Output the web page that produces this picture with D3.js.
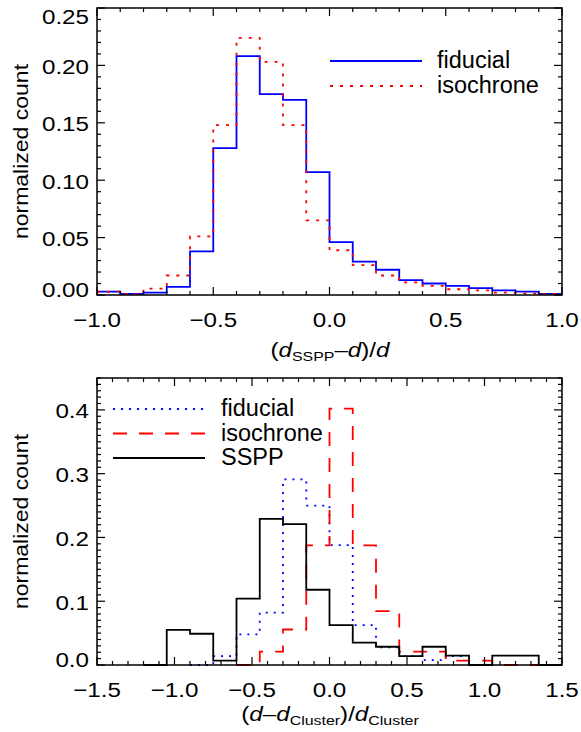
<!DOCTYPE html>
<html>
<head>
<meta charset="utf-8">
<script src="https://cdn.jsdelivr.net/npm/d3@7"></script>
<style>
  body { margin: 0; background: #fff; }
  svg text { font-family: "Liberation Sans", Arial, sans-serif; fill: #000; }
</style>
</head>
<body>
<div id="chart"></div>
<script>
"use strict";

// ---- data ----
// top panel: (d_SSPP - d)/d, bins of 0.1
var topEdges = [-1.0, -0.9, -0.8, -0.7, -0.6, -0.5, -0.4, -0.3, -0.2, -0.1, 0.0,
                0.1, 0.2, 0.3, 0.4, 0.5, 0.6, 0.7, 0.8, 0.9, 1.0];
var topFiducial = [0.003, 0.001, 0.002, 0.007, 0.038, 0.128, 0.208, 0.175, 0.170, 0.107,
                   0.046, 0.029, 0.022, 0.013, 0.010, 0.008, 0.006, 0.004, 0.003, 0.001];
var topIsochrone = [0.003, 0.001, 0.0055, 0.017, 0.051, 0.148, 0.224, 0.203, 0.148, 0.065,
                    0.039, 0.026, 0.017, 0.011, 0.008, 0.005, 0.004, 0.002, 0.0015, 0.001];
var topXTicks = [-1.0, -0.5, 0.0, 0.5, 1.0];
var topYTicks = [0.00, 0.05, 0.10, 0.15, 0.20, 0.25];

// bottom panel: (d - d_Cluster)/d_Cluster, bins of 0.15 (null = not drawn)
var botEdges = [-1.5, -1.35, -1.2, -1.05, -0.9, -0.75, -0.6, -0.45, -0.3, -0.15, 0.0,
                0.15, 0.3, 0.45, 0.6, 0.75, 0.9, 1.05, 1.2, 1.35, 1.5];
var botFiducial = [null, null, null, null, 0, 0.014, 0.048, 0.082, 0.291, 0.250,
                   0.188, 0.0625, 0.0276, 0.014, 0.0078, 0.014, 0, null, null, null];
var botIsochrone = [null, null, null, null, null, null, 0, 0.021, 0.0557, 0.1875,
                    0.402, 0.1875, 0.0844, 0.021, 0.021, 0.007, 0.007, 0, 0, 0];
var botSSPP = [null, null, 0, 0.055, 0.049, 0.007, 0.104, 0.229, 0.221, 0.118,
               0.0625, 0.035, 0.0286, 0.014, 0.0286, 0.0146, 0, 0.0146, 0.0146, 0];
var botXTicks = [-1.5, -1.0, -0.5, 0.0, 0.5, 1.0, 1.5];
var botYTicks = [0.0, 0.1, 0.2, 0.3, 0.4];

var W = 581, H = 732;
var svg = d3.select("#chart").append("svg")
  .attr("width", W).attr("height", H);

var SX = 1.18; // glyphs in the picture are a bit wider than tall
var FS = "20.5px";
function fmt(v, n) {
  var s = Math.abs(v).toFixed(n);
  return (v < 0 ? "\u2212" : "") + s;
}

// draws one histogram panel
function panel(cfg) {
  var x = d3.scaleLinear().domain(cfg.xDomain).range([97, 562]);
  var y = d3.scaleLinear().domain(cfg.yDomain).range([cfg.bottom, cfg.top]);
  var g = svg.append("g");

  // histogram steps
  cfg.series.forEach(function(s) {
    var p = d3.path(), open = false;
    s.values.forEach(function(v, i) {
      if (v === null) { open = false; return; }
      var x0 = x(cfg.edges[i]), x1 = x(cfg.edges[i + 1]), yy = y(v);
      if (!open) { p.moveTo(x0, yy); open = true; } else { p.lineTo(x0, yy); }
      p.lineTo(x1, yy);
    });
    g.append("path")
      .attr("d", p.toString())
      .attr("fill", "none")
      .attr("stroke", s.color)
      .attr("stroke-width", 1.8)
      .attr("stroke-dasharray", s.dash);
  });

  // box
  g.append("rect")
    .attr("x", x.range()[0]).attr("y", cfg.top)
    .attr("width", x.range()[1] - x.range()[0]).attr("height", cfg.bottom - cfg.top)
    .attr("fill", "none").attr("stroke", "#000").attr("stroke-width", 1.5);

  // ticks, pointing inward on all four sides
  function tick(x1, y1, x2, y2) {
    g.append("line").attr("x1", x1).attr("y1", y1).attr("x2", x2).attr("y2", y2)
      .attr("stroke", "#000").attr("stroke-width", 1.2);
  }
  x.ticks(cfg.xMinor).forEach(function(v) {
    var major = cfg.xTicks.some(function(t) { return Math.abs(t - v) < 1e-6; });
    var len = major ? 8 : 4;
    tick(x(v), cfg.bottom, x(v), cfg.bottom - len);
    tick(x(v), cfg.top, x(v), cfg.top + len);
  });
  y.ticks(cfg.yMinor).forEach(function(v) {
    var major = cfg.yTicks.some(function(t) { return Math.abs(t - v) < 1e-6; });
    var len = major ? 8 : 4;
    tick(x.range()[0], y(v), x.range()[0] + len, y(v));
    tick(x.range()[1], y(v), x.range()[1] - len, y(v));
  });

  // tick labels
  cfg.xTicks.forEach(function(v) {
    g.append("text")
      .attr("transform", "translate(" + x(v) + "," + (cfg.bottom + 32) + ") scale(" + SX + ",1)")
      .attr("text-anchor", "middle")
      .style("font-size", FS)
      .text(fmt(v, 1));
  });
  cfg.yTicks.forEach(function(v) {
    var cy = y(v) + 1;
    cy = Math.max(cfg.top + 8, Math.min(cfg.bottom - 6, cy));
    g.append("text")
      .attr("transform", "translate(89," + (cy + 7.5) + ") scale(" + SX + ",1)")
      .attr("text-anchor", "end")
      .style("font-size", FS)
      .text(fmt(v, cfg.yDigits));
  });

  // y title
  g.append("text")
    .attr("transform", "translate(28," + ((cfg.top + cfg.bottom) / 2) + ") rotate(-90) scale(" + SX + ",1)")
    .attr("text-anchor", "middle")
    .style("font-size", "19.5px")
    .text("normalized count");

  // x title with italic d and subscripts
  var t = g.append("text")
    .attr("transform", "translate(330," + (cfg.bottom + cfg.titleDy) + ") scale(" + SX + ",1)")
    .attr("text-anchor", "middle")
    .style("font-size", FS);
  cfg.xTitle.forEach(function(part) {
    var ts = t.append("tspan").text(part.s);
    if (part.it) ts.style("font-style", "italic");
    if (part.sub) ts.style("font-size", "13.5px").attr("dy", 4);
    if (part.up) ts.attr("dy", -4);
  });

  // legend
  cfg.legend.forEach(function(l, i) {
    var ly = cfg.legendY + i * cfg.legendStep;
    g.append("line")
      .attr("x1", cfg.legendX[0]).attr("x2", cfg.legendX[1])
      .attr("y1", ly).attr("y2", ly)
      .attr("stroke", l.color).attr("stroke-width", 1.8)
      .attr("stroke-dasharray", l.dash);
    g.append("text")
      .attr("x", cfg.legendX[2]).attr("y", ly + 7)
      .style("font-size", "23.5px")
      .text(l.name);
  });
}

var topSeries = [
  { name: "fiducial", values: topFiducial, color: "#0000ff", dash: null },
  { name: "isochrone", values: topIsochrone, color: "#ff0000", dash: "3,7" }
];
panel({
  top: 8, bottom: 295, titleDy: 62,
  xDomain: [-1, 1], yDomain: [0, 0.25],
  xMinor: 20, yMinor: 25,
  xTicks: topXTicks, yTicks: topYTicks, yDigits: 2,
  edges: topEdges,
  series: topSeries,
  legend: topSeries,
  legendX: [330, 422, 437], legendY: 61, legendStep: 25,
  xTitle: [{ s: "(" }, { s: "d", it: true }, { s: "SSPP", sub: true },
           { s: "\u2013", up: true }, { s: "d", it: true }, { s: ")/" }, { s: "d", it: true }]
});

var botSeries = [
  { name: "fiducial", values: botFiducial, color: "#0000ff", dash: "2,6" },
  { name: "isochrone", values: botIsochrone, color: "#ff0000", dash: "14,12" },
  { name: "SSPP", values: botSSPP, color: "#000000", dash: null }
];
panel({
  top: 378, bottom: 665, titleDy: 56,
  xDomain: [-1.5, 1.5], yDomain: [0, 0.45],
  xMinor: 30, yMinor: 45,
  xTicks: botXTicks, yTicks: botYTicks, yDigits: 1,
  edges: botEdges,
  series: botSeries,
  legend: botSeries,
  legendX: [113, 205, 221], legendY: 409, legendStep: 24.5,
  xTitle: [{ s: "(" }, { s: "d", it: true }, { s: "\u2013" }, { s: "d", it: true },
           { s: "Cluster", sub: true }, { s: ")/", up: true }, { s: "d", it: true },
           { s: "Cluster", sub: true }]
});
</script>
</body>
</html>
